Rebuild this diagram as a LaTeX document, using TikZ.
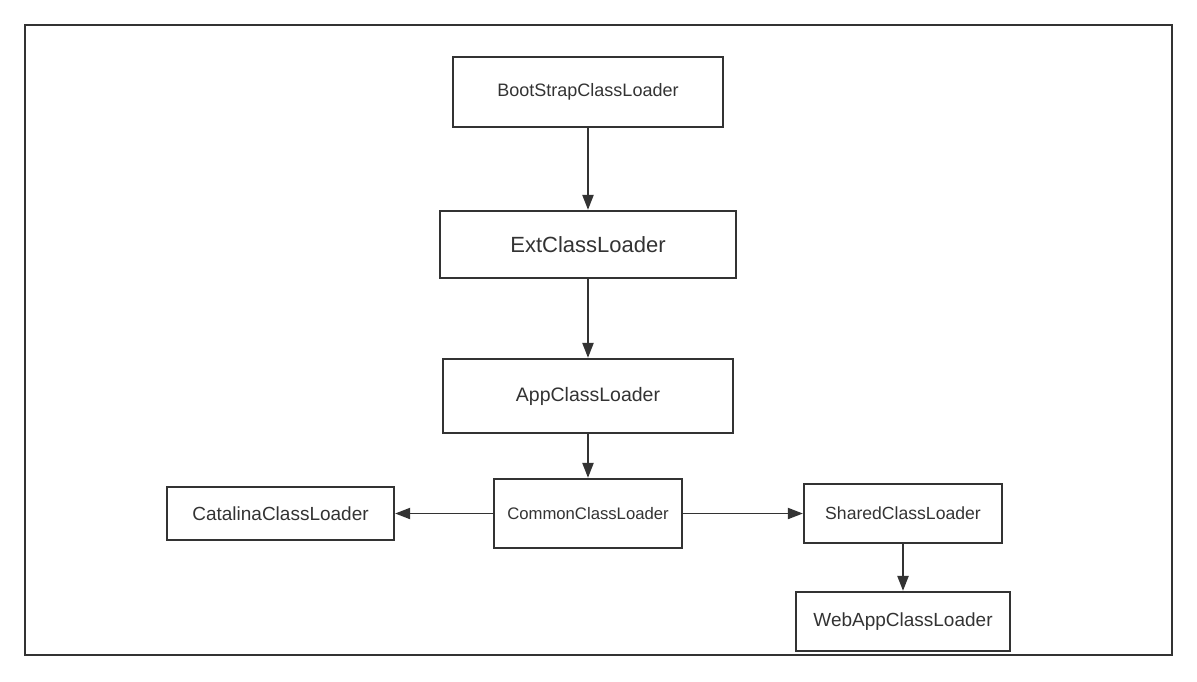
\documentclass[tikz,border=0pt]{standalone}
\usepackage{fontspec}
\setmainfont{Liberation Sans}
\usetikzlibrary{arrows.meta}
\definecolor{ink}{HTML}{333333}
\begin{document}
\begin{tikzpicture}[x=1pt, y=-1pt, >={Triangle[length=15pt,width=11pt]},
    loader/.style={draw=ink, line width=2.2pt, text=ink, inner sep=0pt}]
\useasboundingbox (0,0) rectangle (1197,681);
\draw[ink, line width=2.2pt] (25,25) rectangle (1172,655);
\node[loader, minimum width=270pt, minimum height=70pt, font=\fontsize{18}{20}\selectfont] (boot) at (588,92) {BootStrapClassLoader};
\node[loader, minimum width=296pt, minimum height=67pt, font=\fontsize{22}{24}\selectfont] (ext) at (588,244.5) {ExtClassLoader};
\node[loader, minimum width=290pt, minimum height=74pt, font=\fontsize{19.5}{22}\selectfont] (app) at (588,396) {AppClassLoader};
\node[loader, minimum width=188pt, minimum height=69pt, font=\fontsize{16.7}{19}\selectfont] (common) at (588,513.5) {CommonClassLoader};
\node[loader, minimum width=227pt, minimum height=53pt, font=\fontsize{19}{21}\selectfont] (catalina) at (280.5,513.5) {CatalinaClassLoader};
\node[loader, minimum width=198pt, minimum height=59pt, font=\fontsize{17.6}{20}\selectfont] (shared) at (903,513.5) {SharedClassLoader};
\node[loader, minimum width=214pt, minimum height=59pt, font=\fontsize{19}{21}\selectfont] (webapp) at (903,621.5) {WebAppClassLoader};
\draw[->, ink, line width=2.2pt] (boot) -- (ext);
\draw[->, ink, line width=2.2pt] (ext) -- (app);
\draw[->, ink, line width=2.2pt] (app) -- (common);
\draw[->, ink, line width=1.9pt] (common) -- (catalina);
\draw[->, ink, line width=1.9pt] (common) -- (shared);
\draw[->, ink, line width=2.2pt] (shared) -- (webapp);
\end{tikzpicture}
\end{document}
